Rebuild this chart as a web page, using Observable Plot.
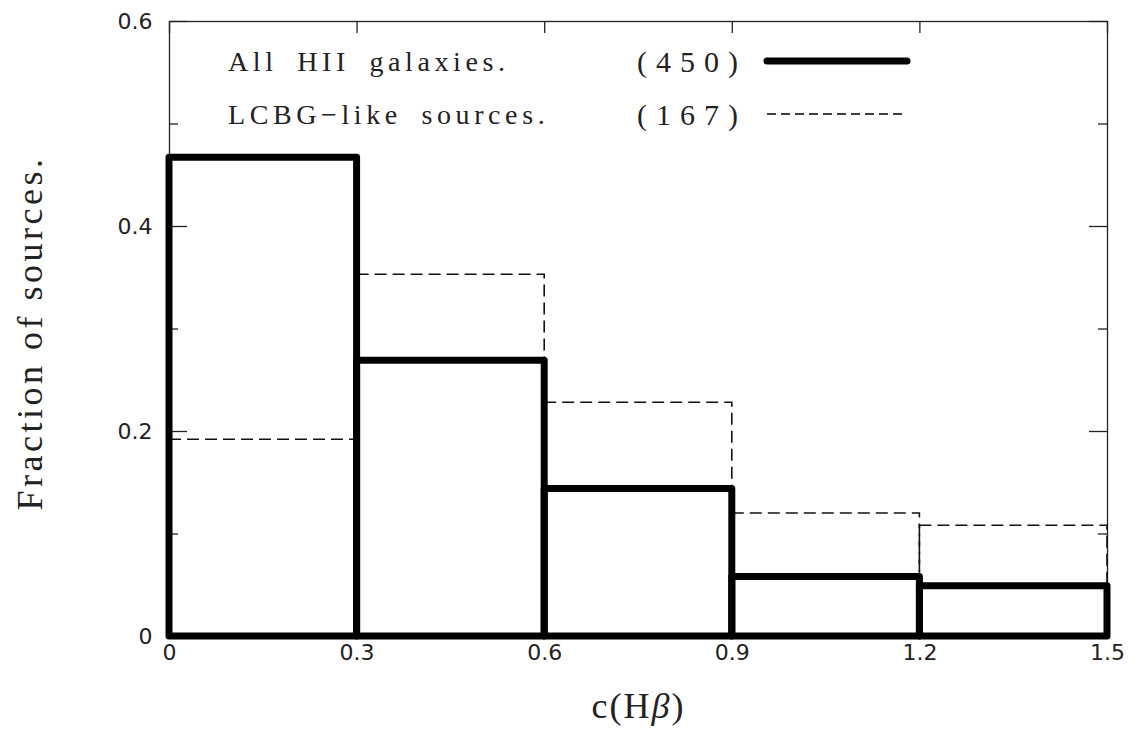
<!DOCTYPE html>
<html>
<head>
<meta charset="utf-8">
<script src="https://cdn.jsdelivr.net/npm/d3@7"></script>
<script src="https://cdn.jsdelivr.net/npm/@observablehq/plot@0.6"></script>
<style>
  html, body { margin: 0; padding: 0; background: #fff; }
  #chart { position: relative; width: 1133px; height: 740px; }
  #legend { position: absolute; left: 0; top: 0; pointer-events: none; }
  .serif { font-family: "Liberation Serif", "DejaVu Serif", serif; fill: #222; }
</style>
</head>
<body>
<div id="chart"></div>
<script>
// Bin edges of c(Hβ) and fraction of sources per bin
const binStart = [0.0, 0.3, 0.6, 0.9, 1.2];
const binEnd   = [0.3, 0.6, 0.9, 1.2, 1.5];
const allHII   = [0.467, 0.269, 0.144, 0.058, 0.049]; // All HII galaxies (450)
const lcbgLike = [0.192, 0.353, 0.228, 0.120, 0.108]; // LCBG-like sources (167)

const seriesNames  = ["All HII galaxies.", "LCBG\u2212like sources."];
const seriesCounts = ["(450)", "(167)"];

const xTicks      = [0, 0.3, 0.6, 0.9, 1.2, 1.5];
const yMajorTicks = [0, 0.2, 0.4, 0.6];
const yMinorTicks = [0.1, 0.3, 0.5];

const W = 1133, H = 740;
const mL = 169, mR = 26, mT = 21, mB = 104;
const fw = W - mL - mR, fh = H - mT - mB;

const toBins = vals => vals.map((v, i) => ({x1: binStart[i], x2: binEnd[i], v}));

const fmt = d => d === 0 ? "0" : d.toFixed(1);

const chart = Plot.plot({
  width: W, height: H,
  marginLeft: mL, marginRight: mR, marginTop: mT, marginBottom: mB,
  style: {fontFamily: "'DejaVu Sans', sans-serif", fontSize: "22px", color: "#222", background: "#fff"},
  x: {domain: [0, 1.5]},
  y: {domain: [0, 0.6]},
  marks: [
    Plot.frame({stroke: "#222", strokeWidth: 1.3}),
    // inward tick marks on all four sides
    Plot.tickY(yMajorTicks, {y: d => d, insetRight: fw - 18, stroke: "#222", strokeWidth: 1.3}),
    Plot.tickY(yMinorTicks, {y: d => d, insetRight: fw - 9, stroke: "#222", strokeWidth: 1.3}),
    Plot.tickY(yMajorTicks, {y: d => d, insetLeft: fw - 18, stroke: "#222", strokeWidth: 1.3}),
    Plot.tickY(yMinorTicks, {y: d => d, insetLeft: fw - 9, stroke: "#222", strokeWidth: 1.3}),
    Plot.tickX(xTicks, {x: d => d, insetBottom: fh - 12, stroke: "#222", strokeWidth: 1.3}),
    Plot.tickX(xTicks, {x: d => d, insetTop: fh - 12, stroke: "#222", strokeWidth: 1.3}),
    Plot.axisY({ticks: yMajorTicks, tickSize: 0, tickPadding: 17, tickFormat: fmt, label: null}),
    Plot.axisX({ticks: xTicks, tickSize: 0, tickPadding: 8, tickFormat: fmt, label: null}),
    // LCBG-like histogram (thin dashed)
    Plot.rect(toBins(lcbgLike), {x1: "x1", x2: "x2", y1: 0, y2: "v", fill: "none",
      stroke: "#111", strokeWidth: 1.6, strokeDasharray: "12,6"}),
    // All HII galaxies histogram (thick solid)
    Plot.rect(toBins(allHII), {x1: "x1", x2: "x2", y1: 0, y2: "v", fill: "none",
      stroke: "#000", strokeWidth: 7, strokeLinejoin: "round"}),
    // axis titles
    Plot.text(["Fraction of sources."], {frameAnchor: "left", textAnchor: "middle", rotate: -90, dx: -139, dy: 4,
      fontFamily: "'Liberation Serif', serif", fontSize: 36, fill: "#222", className: "ylab"}),
    Plot.text(["c(H\u03b2)"], {frameAnchor: "bottom", textAnchor: "middle", dy: 81,
      fontFamily: "'Liberation Serif', serif", fontSize: 36, fill: "#222", className: "xlab"})
  ]
});

document.getElementById("chart").appendChild(chart);

// letter spacing for the axis titles, italic beta in c(Hβ)
d3.select(chart).selectAll(".ylab text").style("letter-spacing", "3.5px");
d3.select(chart).selectAll(".xlab text").each(function () {
  const t = d3.select(this);
  t.text(null).style("letter-spacing", "2px");
  t.append("tspan").text("c(H");
  t.append("tspan").attr("font-style", "italic").text("\u03b2");
  t.append("tspan").text(")");
});

// Legend drawn in the upper part of the frame
const legend = d3.select("#chart").append("svg")
  .attr("id", "legend").attr("width", W).attr("height", H);

const rows = [
  {name: seriesNames[0], count: seriesCounts[0], y: 61, width: 7, dash: null},
  {name: seriesNames[1], count: seriesCounts[1], y: 114, width: 1.5, dash: "9,5"}
];
rows.forEach(r => {
  legend.append("text").attr("class", "serif")
    .attr("x", 228).attr("y", r.y + 10)
    .attr("font-size", 28).style("letter-spacing", "4.6px")
    .style("word-spacing", "8px")
    .text(r.name);
  legend.append("text").attr("class", "serif")
    .attr("x", 637).attr("y", r.y + 11)
    .attr("font-size", 30).style("letter-spacing", "9px")
    .text(r.count);
  legend.append("line")
    .attr("x1", 767).attr("x2", 907).attr("y1", r.y).attr("y2", r.y)
    .attr("stroke", "#000").attr("stroke-width", r.width)
    .attr("stroke-linecap", r.dash ? "butt" : "round")
    .attr("stroke-dasharray", r.dash);
});
</script>
</body>
</html>
